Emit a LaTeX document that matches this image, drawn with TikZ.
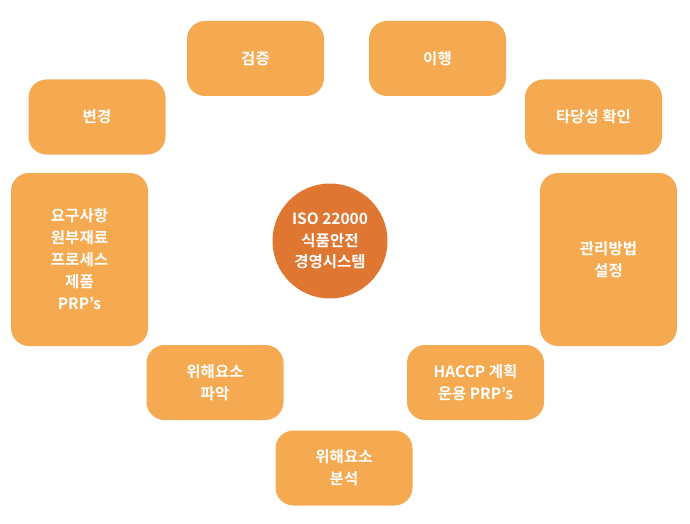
\documentclass[tikz,border=0pt]{standalone}
\usepackage{fontspec}
\setmainfont{Noto Sans CJK KR}[BoldFont={Noto Sans CJK KR Bold}]
\definecolor{boxorange}{HTML}{F5AA52}
\definecolor{coreorange}{HTML}{DF7733}
\begin{document}
\begin{tikzpicture}[x=1pt,y=-1pt,
    stepbox/.style={fill=boxorange,rounded corners=18pt,minimum width=137pt,minimum height=75pt,
      text=white,align=center,font=\bfseries\fontsize{15.5}{22}\selectfont},
    core/.style={fill=coreorange,circle,minimum size=115pt,inner sep=0pt,
      text=white,align=center,font=\bfseries\fontsize{15.5}{21.5}\selectfont}]
    \useasboundingbox (0,0) rectangle (690,524);
    \node (core) at (330,241) [core] {ISO 22000\\식품안전\\경영시스템};
    \node (verify) at (255.5,58.5) [stepbox] {검증};
    \node (implement) at (437.5,58.5) [stepbox] {이행};
    \node (change) at (97,117) [stepbox] {변경};
    \node (validate) at (593.5,117) [stepbox] {타당성 확인};
    \node (require) at (79.5,259.5) [stepbox,minimum height=173pt] {요구사항\\원부재료\\프로세스\\제품\\PRP’s};
    \node (control) at (608.5,259.5) [stepbox,minimum height=173pt] {관리방법\\설정};
    \node (identify) at (215,382.5) [stepbox] {위해요소\\파악};
    \node (haccp) at (475.5,382.5) [stepbox] {HACCP 계획\\운용 PRP’s};
    \node (analyse) at (344,468) [stepbox] {위해요소\\분석};
\end{tikzpicture}
\end{document}
